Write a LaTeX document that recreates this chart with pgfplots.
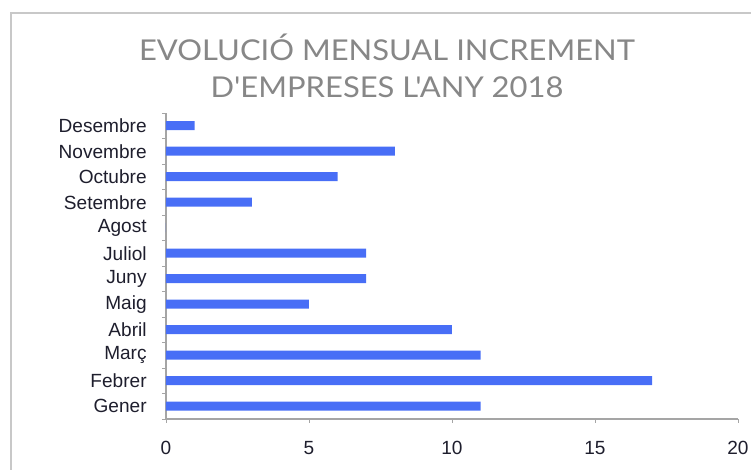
\documentclass[border=0pt]{standalone}
\usepackage{pgfplots}
\pgfplotsset{compat=1.18}
\usepackage{fontspec}
\setmainfont{Liberation Sans}
\newfontfamily\titlefont[Ligatures=TeXOff, FakeStretch=1.08]{Lato}
\definecolor{barblue}{RGB}{72,110,246}
\definecolor{framegray}{RGB}{200,200,200}
\definecolor{axisgray}{RGB}{165,165,165}
\definecolor{titlegray}{RGB}{135,135,135}
\definecolor{labeltext}{RGB}{30,30,45}
\begin{document}
\begin{tikzpicture}
\path[use as bounding box] (0pt,0pt) rectangle (563.25pt,352.5pt);
\clip (0pt,0pt) rectangle (563.25pt,352.5pt);
\draw[framegray, line width=1.9pt] (8.25pt,-10pt) -- (8.25pt,342.75pt) -- (600pt,342.75pt);
\node[anchor=base, text=titlegray, font=\titlefont\fontsize{21.5}{24}\selectfont, inner sep=0pt] at (290.25pt,306.75pt) {EVOLUCIÓ MENSUAL INCREMENT};
\node[anchor=base, text=titlegray, font=\titlefont\fontsize{21.5}{24}\selectfont, inner sep=0pt] at (290.25pt,279pt) {D'EMPRESES L'ANY 2018};
\begin{axis}[
  at={(124.5pt,38.25pt)}, anchor=south west,
  scale only axis, width=429pt, height=229.5pt,
  xmin=0, xmax=20, ymin=-0.5, ymax=11.5,
  axis x line=bottom, axis y line=left,
  axis line style={-, axisgray, line width=0.8pt},
  xtick={0,5,10,15,20},
  ytick={0,...,11},
  yticklabels={Gener\hspace{4pt}, Febrer, Març\hspace{4pt}, Abril\hspace{4pt}, Maig\hspace{4pt}, Juny\hspace{4pt}, Juliol\hspace{4pt}, Agost\hspace{4pt}, Setembre\hspace{4pt}, Octubre, Novembre\hspace{4pt}, Desembre},
  minor ytick={-0.5,0.5,...,11.5},
  tick align=outside,
  major tick style={axisgray, line width=0.6pt},
  minor tick style={axisgray, line width=0.6pt},
  minor tick length=3pt,
  major tick length=3pt,
  every major y tick/.style={draw=none},
  tick label style={font=\fontsize{14.3}{16}\selectfont, text=labeltext},
  xticklabel style={yshift=-10pt},
  yticklabel style={xshift=-8pt},
  /pgf/number format/assume math mode=true,
  xbar, bar width=6.75pt, bar shift=0pt,
  clip=false,
]
\addplot[fill=barblue, draw=none] coordinates {
(11,0) (17,1) (11,2) (10,3) (5,4) (7,5) (7,6) (0,7) (3,8) (6,9) (8,10) (1,11)
};
\end{axis}
\end{tikzpicture}
\end{document}
